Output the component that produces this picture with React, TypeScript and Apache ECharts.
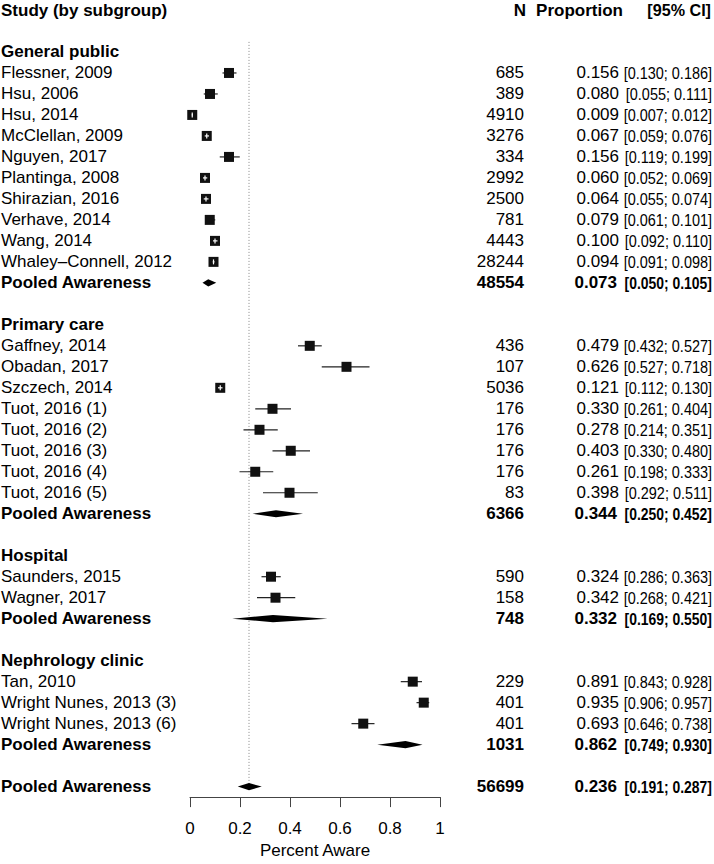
import React, { useEffect, useRef } from "react";
import * as echarts from "echarts";

// ---------- data ----------
const headerLabels = ["Study (by subgroup)", "N", "Proportion", "[95% CI]"];
const groupNames = ["General public", "Primary care", "Hospital", "Nephrology clinic"];
const pooledLabel = "Pooled Awareness";

const studyNames = [
  "Flessner, 2009", "Hsu, 2006", "Hsu, 2014", "McClellan, 2009", "Nguyen, 2017",
  "Plantinga, 2008", "Shirazian, 2016", "Verhave, 2014", "Wang, 2014", "Whaley–Connell, 2012",
  "Gaffney, 2014", "Obadan, 2017", "Szczech, 2014", "Tuot, 2016 (1)", "Tuot, 2016 (2)",
  "Tuot, 2016 (3)", "Tuot, 2016 (4)", "Tuot, 2016 (5)",
  "Saunders, 2015", "Wagner, 2017",
  "Tan, 2010", "Wright Nunes, 2013 (3)", "Wright Nunes, 2013 (6)",
];
const studyGroup = [0, 0, 0, 0, 0, 0, 0, 0, 0, 0, 1, 1, 1, 1, 1, 1, 1, 1, 2, 2, 3, 3, 3];
const studyN = [685, 389, 4910, 3276, 334, 2992, 2500, 781, 4443, 28244, 436, 107, 5036, 176, 176, 176, 176, 83, 590, 158, 229, 401, 401];
const studyProp = [0.156, 0.080, 0.009, 0.067, 0.156, 0.060, 0.064, 0.079, 0.100, 0.094, 0.479, 0.626, 0.121, 0.330, 0.278, 0.403, 0.261, 0.398, 0.324, 0.342, 0.891, 0.935, 0.693];
const studyLo = [0.130, 0.055, 0.007, 0.059, 0.119, 0.052, 0.055, 0.061, 0.092, 0.091, 0.432, 0.527, 0.112, 0.261, 0.214, 0.330, 0.198, 0.292, 0.286, 0.268, 0.843, 0.906, 0.646];
const studyHi = [0.186, 0.111, 0.012, 0.076, 0.199, 0.069, 0.074, 0.101, 0.110, 0.098, 0.527, 0.718, 0.130, 0.404, 0.351, 0.480, 0.333, 0.511, 0.363, 0.421, 0.928, 0.957, 0.738];

const pooledN = [48554, 6366, 748, 1031];
const pooledProp = [0.073, 0.344, 0.332, 0.862];
const pooledLo = [0.050, 0.250, 0.169, 0.749];
const pooledHi = [0.105, 0.452, 0.550, 0.930];

const overallN = 56699;
const overallProp = 0.236;
const overallLo = 0.191;
const overallHi = 0.287;

const xTicks = [0, 0.2, 0.4, 0.6, 0.8, 1];
const xTitle = "Percent Aware";

// ---------- layout of rows ----------
type Row = { row: number; label: string; bold: boolean; n?: string; prop?: string; ci?: string; header?: boolean };
const f3 = (v: number) => v.toFixed(3);
const ciText = (lo: number, hi: number) => `[${f3(lo)}; ${f3(hi)}]`;

const textRows: Row[] = [];
const studyRows: number[] = [];
const pooledRows: number[] = [];
let r = 0;
textRows.push({ row: 0, label: headerLabels[0], bold: true, header: true });
r = 2;
groupNames.forEach((g, gi) => {
  textRows.push({ row: r, label: g, bold: true });
  r++;
  studyNames.forEach((s, si) => {
    if (studyGroup[si] !== gi) return;
    studyRows[si] = r;
    textRows.push({ row: r, label: s, bold: false, n: String(studyN[si]), prop: f3(studyProp[si]), ci: ciText(studyLo[si], studyHi[si]) });
    r++;
  });
  pooledRows[gi] = r;
  textRows.push({ row: r, label: pooledLabel, bold: true, n: String(pooledN[gi]), prop: f3(pooledProp[gi]), ci: ciText(pooledLo[gi], pooledHi[gi]) });
  r += 2;
});
const overallRow = r;
textRows.push({ row: overallRow, label: pooledLabel, bold: true, n: String(overallN), prop: f3(overallProp), ci: ciText(overallLo, overallHi) });

const FONT = "'Liberation Sans', Arial, Helvetica, sans-serif";
const FS = 17;

function txt(text: string, x: number, y: number, align: string, bold: boolean, scaleX = 1) {
  return {
    type: "text",
    x,
    y,
    scaleX,
    style: {
      text,
      fill: "#000",
      fontSize: FS,
      fontFamily: FONT,
      fontWeight: bold ? "bold" : "normal",
      align,
      verticalAlign: "middle",
      textAlign: align,
      textVerticalAlign: "middle",
    },
  };
}

export default function App() {
  const ref = useRef<HTMLDivElement>(null);
  useEffect(() => {
    if (!ref.current) return;
    const chart = echarts.init(ref.current, undefined, { renderer: "svg" });
    const gridTop = 10;
    const gridH = 795;
    const rowMax = gridH / 21.2;

    const option: any = {
      animation: false,
      grid: { left: 190, width: 250, top: gridTop, height: gridH },
      xAxis: {
        type: "value",
        min: 0,
        max: 1,
        interval: 0.2,
        position: "bottom",
        axisLine: { show: true, onZero: false, lineStyle: { color: "#444", width: 1 } },
        axisTick: { show: true, length: 10, lineStyle: { color: "#444", width: 1 } },
        axisLabel: {
          fontSize: FS,
          fontFamily: FONT,
          color: "#000",
          margin: 23,
          formatter: (v: number) => String(xTicks.find((t) => Math.abs(t - v) < 1e-9) ?? +v.toFixed(1)),
        },
        splitLine: { show: false },
        name: xTitle,
        nameLocation: "middle",
        nameGap: 43,
        nameTextStyle: { fontSize: FS, fontFamily: FONT, color: "#000" },
      },
      yAxis: { type: "value", inverse: true, min: 0, max: rowMax, show: false },
      series: [
        {
          type: "custom",
          name: "reference",
          data: [[overallProp, 1.52, overallRow - 0.1]],
          renderItem: (params: any, api: any) => {
            const a = api.coord([api.value(0), api.value(1)]);
            const b = api.coord([api.value(0), api.value(2)]);
            return {
              type: "line",
              shape: { x1: a[0], y1: a[1], x2: b[0], y2: b[1] },
              style: { stroke: "#888", lineWidth: 1, lineDash: [1, 2] },
            };
          },
          z: 1,
        },
        {
          type: "custom",
          name: "studies",
          data: studyNames.map((_, i) => [studyProp[i], studyRows[i], studyLo[i], studyHi[i]]),
          renderItem: (params: any, api: any) => {
            const c = api.coord([api.value(0), api.value(1)]);
            const lo = api.coord([api.value(2), api.value(1)]);
            const hi = api.coord([api.value(3), api.value(1)]);
            const h = 5;
            const inside = lo[0] >= c[0] - h && hi[0] <= c[0] + h;
            const children: any[] = [];
            if (!inside) {
              children.push({ type: "line", shape: { x1: lo[0], y1: c[1], x2: hi[0], y2: c[1] }, style: { stroke: "#222", lineWidth: 1.2 } });
            }
            children.push({ type: "rect", shape: { x: c[0] - h, y: c[1] - h, width: 2 * h, height: 2 * h }, style: { fill: "#111" } });
            if (inside) {
              children.push({ type: "line", shape: { x1: lo[0], y1: c[1], x2: hi[0], y2: c[1] }, style: { stroke: "#fff", lineWidth: 1.2 } });
              children.push({ type: "line", shape: { x1: c[0], y1: c[1] - 2.5, x2: c[0], y2: c[1] + 2.5 }, style: { stroke: "#fff", lineWidth: 1.2 } });
            }
            return { type: "group", children };
          },
          z: 3,
        },
        {
          type: "custom",
          name: "pooled",
          data: [
            ...groupNames.map((_, i) => [pooledProp[i], pooledRows[i], pooledLo[i], pooledHi[i]]),
            [overallProp, overallRow, overallLo, overallHi],
          ],
          renderItem: (params: any, api: any) => {
            const c = api.coord([api.value(0), api.value(1)]);
            const lo = api.coord([api.value(2), api.value(1)]);
            const hi = api.coord([api.value(3), api.value(1)]);
            const d = 3.6;
            return {
              type: "polygon",
              shape: { points: [[lo[0], c[1]], [c[0], c[1] - d], [hi[0], c[1]], [c[0], c[1] + d]] },
              style: { fill: "#000" },
            };
          },
          z: 3,
        },
        {
          type: "custom",
          name: "texts",
          data: textRows.map((t) => [0, t.row]),
          renderItem: (params: any, api: any) => {
            const t = textRows[params.dataIndex];
            const y = api.coord([0, api.value(1)])[1];
            const children: any[] = [txt(t.label, 1, y, "left", t.bold)];
            if (t.header) {
              children.push(txt(headerLabels[1], 526, y, "right", true));
              children.push(txt(headerLabels[2], 623, y, "right", true));
              children.push(txt(headerLabels[3], 711, y, "right", true, 0.95));
            } else if (t.n) {
              children.push(txt(t.n, 524, y, "right", t.bold));
              children.push(txt(t.prop!, t.bold ? 617 : 619, y, "right", t.bold));
              children.push(txt(t.ci!, 712, y, "right", t.bold, t.bold ? 0.82 : 0.85));
            }
            return { type: "group", children };
          },
          z: 5,
        },
      ],
    };
    chart.setOption(option);
    return () => chart.dispose();
  }, []);
  return <div ref={ref} style={{ position: "absolute", left: 0, top: 0, width: 714, height: 864 }} />;
}
